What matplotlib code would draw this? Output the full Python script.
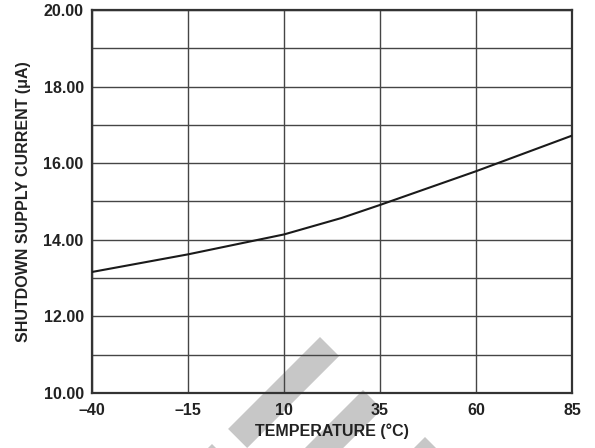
import numpy as np
import matplotlib
matplotlib.use('Agg')
import matplotlib.pyplot as plt
from matplotlib.patches import Polygon

# temperature (C) vs shutdown supply current (uA)
temp = [-40, -15, 10, 25, 35, 60, 85]
curr = [13.16, 13.62, 14.14, 14.57, 14.91, 15.79, 16.72]

xticks = [-40, -15, 10, 35, 60, 85]
xlabels = ['\u201340', '\u201315', '10', '35', '60', '85']
yticks = [10, 12, 14, 16, 18, 20]
ylabels = ['%.2f' % v for v in yticks]

GRID = (0.27, 0.27, 0.27)
WM = (0.78, 0.78, 0.78)
FS = 11.5

plt.rcParams['font.family'] = ['Liberation Sans', 'DejaVu Sans']
plt.rcParams['font.weight'] = 'bold'

W, H = 595, 448
fig = plt.figure(figsize=(W/100, H/100), dpi=100)

# grey watermark stripes, pixel corners -> figure fraction
def band(cx, cy, w=27, L=160):
    # top cap corner (cx,cy), band runs down-left at 45 deg
    d = w/np.sqrt(2)
    l = L/np.sqrt(2)
    pts = [(cx, cy), (cx+d, cy+d), (cx+d-l, cy+d+l), (cx-l, cy+l)]
    return [(x/W, 1-y/H) for x, y in pts]

for pts in [band(320, 337, L=130), band(363, 390), band(425, 437), band(212, 444)]:
    fig.patches.append(Polygon(pts, closed=True, transform=fig.transFigure,
                               fc=WM, ec='none', zorder=-5))

ax = fig.add_axes([92/W, 1-393/H, 480/W, 383/H])
ax.set_facecolor('none')
ax.plot(temp, curr, c='#1a1a1a', lw=1.5, zorder=3)

ax.set_xlim(-40, 85)
ax.set_ylim(10, 20)
ax.set_xticks(xticks)
ax.set_xticklabels(xlabels)
ax.set_yticks(yticks)
ax.set_yticklabels(ylabels)
ax.set_yticks(np.arange(11, 20, 2), minor=True)
ax.tick_params(which='both', length=0, labelsize=FS, colors='#222222')
ax.tick_params(axis='x', pad=7)
ax.tick_params(axis='y', pad=6)
ax.grid(True, which='both', color=GRID, lw=1.0)
for s in ax.spines.values():
    s.set_color('#333333')
    s.set_linewidth(1.6)

ax.set_xlabel('TEMPERATURE (\u00b0C)', fontsize=FS, fontweight='bold', color='#222222', labelpad=4)
ax.set_ylabel('SHUTDOWN SUPPLY CURRENT (\u03bcA)', fontsize=FS, fontweight='bold', color='#222222', labelpad=9)

plt.savefig('out.png', dpi=100)
